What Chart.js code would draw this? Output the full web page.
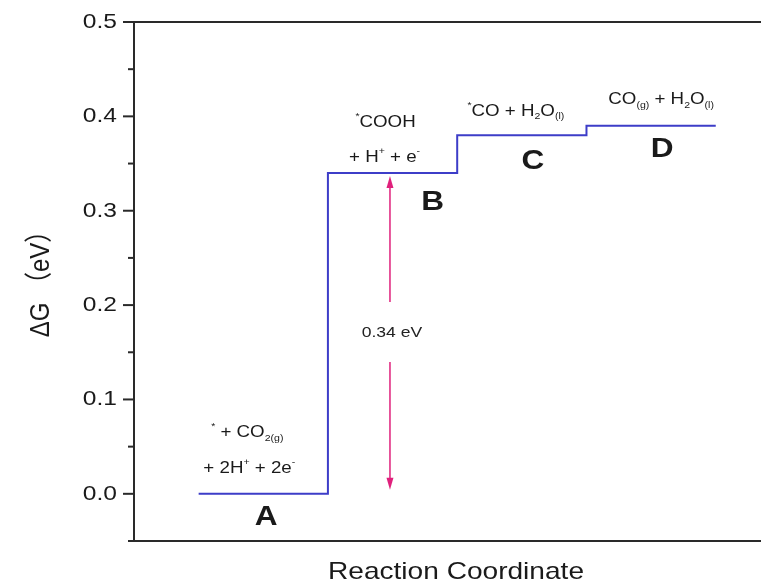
<!DOCTYPE html>
<html>
<head>
<meta charset="utf-8">
<script src="https://cdn.jsdelivr.net/npm/chart.js@4.4.0/dist/chart.umd.min.js"></script>
<style>
body{margin:0;background:#fff;}
#wrap{width:761px;height:584px;}
</style>
</head>
<body>
<div id="wrap"><canvas id="myChart" width="761" height="584"></canvas></div>
<script>
// free energy of each state along the path (eV)
var steps = ["A", "B", "C", "D"];
var levels = [0, 0.34, 0.38, 0.39];
var yTicks = [0, 0.1, 0.2, 0.3, 0.4, 0.5];
var yMinor = [-0.05, 0.05, 0.15, 0.25, 0.35, 0.45];
// species text, [text, 0 normal / 1 sup / -1 sub]
var species = [
  [[["*", 1], [" + CO", 0], ["2(g)", -1]], [["+ 2H", 0], ["+", 1], [" + 2e", 0], ["-", 1]]],
  [[["*", 1], ["COOH", 0]], [["+ H", 0], ["+", 1], [" + e", 0], ["-", 1]]],
  [[["*", 1], ["CO + H", 0], ["2", -1], ["O", 0], ["(l)", -1]]],
  [[["CO", 0], ["(g)", -1], [" + H", 0], ["2", -1], ["O", 0], ["(l)", -1]]]
];
var barrier = [0, 1]; // arrow between these two states

var FONT = "'Liberation Sans', Arial, sans-serif";
var SX = 1.17; // text is a bit wide in this figure

// label offsets from step centre / level, px
var specPos = [
  [[-16, -61], [-14, -25]],
  [[-7, -50], [-8, -15]],
  [[-6, -24]],
  [[10, -26]]
];
var letterPos = [[3, 24], [40, 30], [11, 26], [11, 24]];

var pts = [];
levels.forEach(function(v, i) {
  pts.push({x: i, y: v});
  pts.push({x: i + 1, y: v});
});

function richText(ctx, segs, cx, cy, size) {
  var small = Math.round(size * 0.58);
  var w = 0;
  segs.forEach(function(s) {
    ctx.font = (s[1] ? small : size) + "px " + FONT;
    w += ctx.measureText(s[0]).width;
  });
  ctx.save();
  ctx.translate(cx, cy);
  ctx.scale(SX, 1);
  ctx.textBaseline = "middle";
  ctx.textAlign = "left";
  var x = -w / 2;
  segs.forEach(function(s) {
    ctx.font = (s[1] ? small : size) + "px " + FONT;
    var dy = s[1] == 1 ? -size * 0.38 : (s[1] == -1 ? size * 0.34 : 0);
    ctx.fillText(s[0], x, dy);
    x += ctx.measureText(s[0]).width;
  });
  ctx.restore();
}

function plainText(ctx, txt, cx, cy, font, align) {
  ctx.save();
  ctx.translate(cx, cy);
  ctx.scale(SX, 1);
  ctx.font = font;
  ctx.textAlign = align || "center";
  ctx.textBaseline = "middle";
  ctx.fillText(txt, 0, 0);
  ctx.restore();
}

function arrowHead(ctx, x, y, dir) {
  ctx.beginPath();
  ctx.moveTo(x, y);
  ctx.lineTo(x - 3.5, y - dir * 12);
  ctx.lineTo(x + 3.5, y - dir * 12);
  ctx.closePath();
  ctx.fill();
}

var decor = {
  id: "decor",
  afterDraw: function(chart) {
    var ctx = chart.ctx, a = chart.chartArea;
    var xs = chart.scales.x, ys = chart.scales.y;
    ctx.save();
    ctx.strokeStyle = "#2a2a2a";
    ctx.fillStyle = "#1a1a1a";
    ctx.lineWidth = 2;
    // frame (top, left, bottom)
    ctx.beginPath();
    ctx.moveTo(chart.width, a.top); ctx.lineTo(a.left, a.top);
    ctx.lineTo(a.left, a.bottom); ctx.lineTo(chart.width, a.bottom);
    ctx.stroke();
    // y ticks
    yTicks.forEach(function(v) {
      var py = ys.getPixelForValue(v);
      ctx.beginPath(); ctx.moveTo(a.left - 11, py); ctx.lineTo(a.left, py); ctx.stroke();
      plainText(ctx, v.toFixed(1), a.left - 17, py, "21px " + FONT, "right");
    });
    yMinor.forEach(function(v) {
      var py = ys.getPixelForValue(v);
      ctx.beginPath(); ctx.moveTo(a.left - 6, py); ctx.lineTo(a.left, py); ctx.stroke();
    });
    // axis titles
    plainText(ctx, "Reaction Coordinate", 456, 572, "24px " + FONT);
    ctx.save();
    ctx.translate(41, 278);
    ctx.rotate(-Math.PI / 2);
    ctx.scale(1, SX);
    ctx.font = "24px " + FONT + ", 'Noto Sans CJK SC'";
    ctx.textAlign = "center";
    ctx.textBaseline = "middle";
    ctx.fillText("\u0394G \uFF08eV\uFF09", 0, 0);
    ctx.restore();

    // state labels
    steps.forEach(function(s, i) {
      var cx = xs.getPixelForValue(i + 0.5), cy = ys.getPixelForValue(levels[i]);
      species[i].forEach(function(line, j) {
        richText(ctx, line, cx + specPos[i][j][0], cy + specPos[i][j][1], 16);
      });
      plainText(ctx, s, cx + letterPos[i][0], cy + letterPos[i][1], "bold 27px " + FONT);
    });

    // energy gap arrow
    var dG = levels[barrier[1]] - levels[barrier[0]];
    var ax = xs.getPixelForValue(barrier[1] + 0.48);
    var yT = ys.getPixelForValue(levels[barrier[1]]) + 3;
    var yB = ys.getPixelForValue(levels[barrier[0]]) - 4;
    var ym = (yT + yB) / 2;
    ctx.strokeStyle = "#e0207c";
    ctx.fillStyle = "#e0207c";
    ctx.lineWidth = 1.5;
    ctx.beginPath();
    ctx.moveTo(ax, yT + 8); ctx.lineTo(ax, ym - 31);
    ctx.moveTo(ax, ym + 29); ctx.lineTo(ax, yB - 8);
    ctx.stroke();
    arrowHead(ctx, ax, yT, -1);
    arrowHead(ctx, ax, yB, 1);
    ctx.fillStyle = "#222";
    plainText(ctx, dG.toFixed(2) + " eV", ax + 2, ym, "15px " + FONT);
    ctx.restore();
  }
};

var ctx = document.getElementById("myChart");
var myChart = new Chart(ctx, {
  type: "scatter",
  data: {
    datasets: [{
      data: pts,
      showLine: true,
      borderColor: "#3d3dc8",
      borderWidth: 2,
      pointRadius: 0,
      fill: false,
      tension: 0
    }]
  },
  options: {
    responsive: false,
    animation: false,
    layout: {padding: {top: 22, left: 0, right: 0, bottom: 0}},
    plugins: {legend: {display: false}, tooltip: {enabled: false}},
    scales: {
      x: {
        type: "linear", min: -0.5, max: 4.35,
        ticks: {display: false}, grid: {display: false}, border: {display: false},
        afterFit: function(s) { s.height = 43; }
      },
      y: {
        type: "linear", min: -0.05, max: 0.5,
        ticks: {display: false}, grid: {display: false}, border: {display: false},
        afterFit: function(s) { s.width = 134; }
      }
    }
  },
  plugins: [decor]
});
</script>
</body>
</html>
